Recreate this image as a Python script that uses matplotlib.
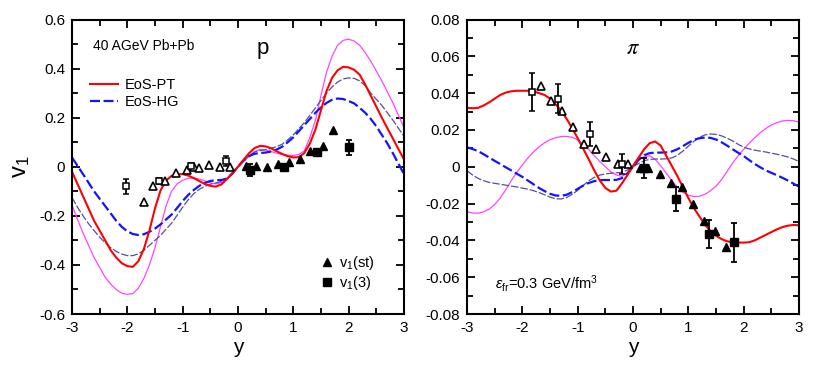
"""Directed flow v1(y) of protons and pions, 40 AGeV Pb+Pb."""

import matplotlib

matplotlib.use("Agg")
import matplotlib.pyplot as plt
import numpy as np
from matplotlib.lines import Line2D
from matplotlib.ticker import MultipleLocator

plt.rcParams["font.family"] = ["Liberation Sans", "DejaVu Sans"]
plt.rcParams["mathtext.fontset"] = "custom"
plt.rcParams["mathtext.rm"] = "Liberation Sans"
plt.rcParams["mathtext.it"] = "Liberation Sans:italic"
plt.rcParams["axes.unicode_minus"] = False

# ---- model curves, read every 0.1 in rapidity from -3 to 3 ----
y_grid = np.linspace(-3.0, 3.0, 61)

# protons
p_pt = [-0.02, -0.07, -0.12, -0.17, -0.22, -0.26, -0.30, -0.34, -0.37, -0.393,
        -0.405, -0.408, -0.385, -0.335, -0.26, -0.17, -0.097, -0.056, -0.037, -0.031,
        -0.030, -0.036, -0.046, -0.058, -0.07, -0.078, -0.081, -0.072, -0.05, -0.025,
        0.0,
        0.028, 0.055, 0.076, 0.085, 0.083, 0.075, 0.063, 0.052, 0.043, 0.038,
        0.039, 0.056, 0.095, 0.152, 0.23, 0.308, 0.362, 0.393, 0.407, 0.405,
        0.395, 0.375, 0.335, 0.29, 0.245, 0.20, 0.157, 0.115, 0.072, 0.03]
p_pt_thin = [-0.156, -0.215, -0.27, -0.32, -0.37, -0.41, -0.45, -0.478, -0.50, -0.515,
             -0.52, -0.517, -0.495, -0.455, -0.40, -0.33, -0.245, -0.16, -0.10, -0.07,
             -0.055, -0.047, -0.046, -0.05, -0.057, -0.066, -0.07, -0.065, -0.05, -0.027,
             0.0,
             0.022, 0.043, 0.062, 0.07, 0.068, 0.062, 0.055, 0.05, 0.047, 0.046,
             0.05, 0.065, 0.12, 0.19, 0.29, 0.385, 0.45, 0.495, 0.515, 0.52,
             0.512, 0.495, 0.465, 0.43, 0.39, 0.35, 0.305, 0.26, 0.21, 0.16]
p_hg = [0.038, 0.004, -0.03, -0.065, -0.10, -0.13, -0.16, -0.19, -0.22, -0.245,
        -0.263, -0.274, -0.278, -0.275, -0.265, -0.252, -0.235, -0.215, -0.195, -0.168,
        -0.14, -0.115, -0.095, -0.078, -0.066, -0.058, -0.055, -0.054, -0.048, -0.028,
        0.0,
        0.025, 0.043, 0.053, 0.056, 0.058, 0.062, 0.07, 0.082, 0.10, 0.12,
        0.145, 0.17, 0.195, 0.22, 0.242, 0.26, 0.273, 0.278, 0.276, 0.268,
        0.258, 0.24, 0.22, 0.195, 0.165, 0.13, 0.095, 0.055, 0.013, -0.03]
p_hg_thin = [-0.125, -0.165, -0.20, -0.232, -0.26, -0.287, -0.31, -0.33, -0.345, -0.356,
             -0.362, -0.362, -0.355, -0.34, -0.32, -0.30, -0.28, -0.255, -0.23, -0.198,
             -0.165, -0.135, -0.11, -0.092, -0.08, -0.071, -0.066, -0.06, -0.05, -0.03,
             0.0,
             0.025, 0.045, 0.06, 0.066, 0.07, 0.075, 0.082, 0.092, 0.11, 0.13,
             0.155, 0.18, 0.21, 0.24, 0.27, 0.30, 0.325, 0.345, 0.358, 0.362,
             0.36, 0.35, 0.33, 0.30, 0.275, 0.25, 0.22, 0.19, 0.157, 0.125]

# pions
pi_pt = [0.032, 0.0318, 0.032, 0.0333, 0.035, 0.037, 0.039, 0.0403, 0.041, 0.0413,
         0.0413, 0.0413, 0.041, 0.040, 0.039, 0.037, 0.034, 0.0305, 0.026, 0.021,
         0.0155, 0.0098, 0.004, -0.002, -0.0075, -0.0115, -0.0135, -0.013, -0.009, -0.0045,
         0.0005,
         0.005, 0.0095, 0.0128, 0.0137, 0.0115, 0.006, 0.0005, -0.005, -0.011, -0.017,
         -0.0225, -0.027, -0.0315, -0.035, -0.0375, -0.0393, -0.0405, -0.041, -0.0412, -0.0412,
         -0.041, -0.040, -0.0385, -0.037, -0.0355, -0.034, -0.0328, -0.032, -0.0316, -0.0318]
pi_pt_thin = [-0.0244, -0.0252, -0.0252, -0.0245, -0.023, -0.0205, -0.017, -0.0125, -0.0075, -0.003,
              0.001, 0.0048, 0.008, 0.0108, 0.013, 0.0147, 0.0158, 0.0164, 0.0165, 0.016,
              0.0145, 0.012, 0.0093, 0.006, 0.0028, 0.0, -0.0028, -0.0045, -0.0052, -0.0035,
              0.0,
              0.0035, 0.0055, 0.006, 0.004, 0.0005, -0.0035, -0.0075, -0.011, -0.0138, -0.0155,
              -0.0162, -0.016, -0.015, -0.013, -0.0105, -0.007, -0.0025, 0.002, 0.006, 0.0095,
              0.0128, 0.0158, 0.0185, 0.0208, 0.0227, 0.024, 0.0249, 0.0252, 0.025, 0.0243]
pi_hg = [0.0106, 0.0096, 0.0085, 0.0068, 0.005, 0.0032, 0.0015, -0.0003, -0.002, -0.0038,
         -0.0055, -0.0075, -0.0095, -0.0115, -0.0132, -0.0147, -0.0156, -0.0158, -0.0152, -0.0138,
         -0.012, -0.0102, -0.0088, -0.0078, -0.0073, -0.0072, -0.0072, -0.0071, -0.0062, -0.0035,
         0.0,
         0.0038, 0.0063, 0.0074, 0.0077, 0.0077, 0.0078, 0.0083, 0.0095, 0.0112, 0.013,
         0.0146, 0.0155, 0.0159, 0.0157, 0.0148, 0.0133, 0.0115, 0.0095, 0.0076, 0.0058,
         0.0036, 0.0015, -0.0003, -0.002, -0.0033, -0.0046, -0.006, -0.0075, -0.0092, -0.0108]
pi_hg_thin = [-0.0021, -0.0045, -0.0063, -0.0076, -0.0085, -0.009, -0.0095, -0.01, -0.0105, -0.011,
              -0.0116, -0.0122, -0.013, -0.014, -0.0152, -0.0165, -0.0174, -0.0175, -0.0167, -0.015,
              -0.0128, -0.0102, -0.0076, -0.0058, -0.0045, -0.0039, -0.0035, -0.0033, -0.003, -0.0018,
              0.0,
              0.0018, 0.0033, 0.004, 0.0042, 0.0042, 0.0043, 0.0048, 0.0062, 0.0085, 0.0112,
              0.0138, 0.016, 0.0173, 0.0178, 0.0176, 0.0168, 0.0155, 0.014, 0.0122, 0.0106,
              0.0097, 0.009, 0.0085, 0.008, 0.0074, 0.0068, 0.0061, 0.0053, 0.0042, 0.0028]

# ---- NA49 data ----
# protons: v1(st) filled, reflected open
p_st_y = [0.15, 0.33, 0.52, 0.73, 0.93, 1.12, 1.31, 1.53, 1.71]
p_st_v = [0.002, 0.004, 0.0, 0.01, 0.02, 0.03, 0.065, 0.086, 0.151]
p_st_refl_y = [-1.70, -1.53, -1.31, -1.12, -0.92, -0.80, -0.71, -0.52, -0.32, -0.15]
p_st_refl_v = [-0.144, -0.077, -0.058, -0.024, -0.013, -0.002, -0.004, 0.007, 0.0, 0.0]
p_3_y = [0.21, 0.83, 1.43, 2.01]
p_3_v = [-0.013, -0.002, 0.059, 0.079]
p_3_err = [0.025, 0.01, 0.012, 0.032]
p_3_refl_y = [-2.02, -1.42, -0.84, -0.21]
p_3_refl_v = [-0.08, -0.058, 0.004, 0.022]
p_3_refl_err = [0.032, 0.012, 0.01, 0.02]

# pions
pi_st_y = [0.13, 0.27, 0.49, 0.68, 0.89, 1.09, 1.28, 1.48, 1.68]
pi_st_v = [-0.0005, -0.0005, -0.004, -0.0086, -0.0111, -0.0202, -0.0294, -0.0347, -0.0434]
pi_st_refl_y = [-1.67, -1.48, -1.28, -1.08, -0.89, -0.67, -0.49, -0.27, -0.10]
pi_st_refl_v = [0.044, 0.0359, 0.0305, 0.0215, 0.0122, 0.0099, 0.0052, 0.0015, 0.0016]
pi_3_y = [0.19, 0.78, 1.38, 1.83]
pi_3_v = [-0.0008, -0.0176, -0.0366, -0.041]
pi_3_err = [0.0054, 0.0065, 0.0075, 0.0105]
pi_3_refl_y = [-1.82, -1.36, -0.78, -0.20]
pi_3_refl_v = [0.0408, 0.037, 0.0178, 0.0014]
pi_3_refl_err = [0.0104, 0.0077, 0.0066, 0.0054]

x_ticks = [-3, -2, -1, 0, 1, 2, 3]
x_labels = ["-3", "-2", "-1", "0", "1", "2", "3"]
p_ticks = [-0.6, -0.4, -0.2, 0.0, 0.2, 0.4, 0.6]
p_labels = ["-0.6", "-0.4", "-0.2", "0", "0.2", "0.4", "0.6"]
pi_ticks = [-0.08, -0.06, -0.04, -0.02, 0.0, 0.02, 0.04, 0.06, 0.08]
pi_labels = ["-0.08", "-0.06", "-0.04", "-0.02", "0", "0.02", "0.04", "0.06", "0.08"]

RED = "#ff0000"
BLUE = "#1414ff"
PINK = "#ff44ff"
NAVY = "#5050a0"


def draw_panel(ax, pt, pt_thin, hg, hg_thin, st_y, st_v, st_ry, st_rv,
               s3_y, s3_v, s3_e, s3_ry, s3_rv, s3_re):
    ax.plot(y_grid, pt_thin, color=PINK, lw=0.9, zorder=2)
    ax.plot(y_grid, hg_thin, color=NAVY, lw=0.9, dashes=(6, 1.6), zorder=2)
    ax.plot(y_grid, hg, color=BLUE, lw=1.6, dashes=(4.5, 1.6), zorder=2)
    ax.plot(y_grid, pt, color=RED, lw=1.5, zorder=2)
    ax.plot(st_y, st_v, ls="none", marker="^", ms=6, color="black", zorder=4)
    ax.plot(st_ry, st_rv, ls="none", marker="^", ms=5.5, mfc="white",
            mec="black", mew=1.2, zorder=4)
    ax.errorbar(s3_y, s3_v, yerr=s3_e, fmt="s", ms=5.5, color="black",
                elinewidth=1.3, capsize=2.5, capthick=1.3, zorder=5)
    ax.errorbar(s3_ry, s3_rv, yerr=s3_re, fmt="s", ms=5, mfc="white",
                mec="black", mew=1.1, ecolor="black", elinewidth=1.3,
                capsize=2.5, capthick=1.3, zorder=5)
    ax.set_xlim(-3, 3)
    ax.set_xticks(x_ticks)
    ax.set_xticklabels(x_labels)
    ax.xaxis.set_minor_locator(MultipleLocator(0.5))
    ax.tick_params(which="both", direction="in", top=True, right=True,
                   width=1.3, labelsize=11, pad=5)
    ax.tick_params(which="major", length=6)
    ax.tick_params(which="minor", length=4.5)
    for sp in ax.spines.values():
        sp.set_linewidth(1.5)
    ax.set_xlabel("y", fontsize=15, labelpad=2)


fig = plt.figure(figsize=(8.3, 3.79), dpi=100)
ax1 = fig.add_axes([0.0867, 0.1715, 0.4, 0.777])
ax2 = fig.add_axes([0.5627, 0.1715, 0.4, 0.777])

draw_panel(ax1, p_pt, p_pt_thin, p_hg, p_hg_thin, p_st_y, p_st_v, p_st_refl_y,
           p_st_refl_v, p_3_y, p_3_v, p_3_err, p_3_refl_y, p_3_refl_v, p_3_refl_err)
ax1.set_ylim(-0.6, 0.6)
ax1.set_yticks(p_ticks)
ax1.set_yticklabels(p_labels)
ax1.yaxis.set_minor_locator(MultipleLocator(0.1))
ax1.set_ylabel("v$_1$", fontsize=17, labelpad=5)
ax1.text(0.063, 0.91, "40 AGeV Pb+Pb", transform=ax1.transAxes, fontsize=10,
         va="center", ha="left")
ax1.text(0.575, 0.9, "p", transform=ax1.transAxes, fontsize=16,
         va="center", ha="center")

leg1 = ax1.legend(
    handles=[Line2D([], [], color=RED, lw=1.5),
             Line2D([], [], color=BLUE, lw=1.6, dashes=(4.5, 1.6))],
    labels=["EoS-PT", "EoS-HG"], loc="upper left", bbox_to_anchor=(0.055, 0.80),
    frameon=False, fontsize=10.5, handlelength=1.9, handletextpad=0.45,
    labelspacing=0.2, borderpad=0, borderaxespad=0)
ax1.add_artist(leg1)
ax1.legend(
    handles=[Line2D([], [], ls="none", marker="^", ms=6, color="black"),
             Line2D([], [], ls="none", marker="s", ms=5.5, color="black")],
    labels=["v$_1$(st)", "v$_1$(3)"], loc="upper left", bbox_to_anchor=(0.752, 0.205),
    frameon=False, fontsize=10.5, handlelength=0.8, handletextpad=0.4,
    labelspacing=0.15, borderpad=0, borderaxespad=0)

draw_panel(ax2, pi_pt, pi_pt_thin, pi_hg, pi_hg_thin, pi_st_y, pi_st_v, pi_st_refl_y,
           pi_st_refl_v, pi_3_y, pi_3_v, pi_3_err, pi_3_refl_y, pi_3_refl_v, pi_3_refl_err)
ax2.set_ylim(-0.08, 0.08)
ax2.set_yticks(pi_ticks)
ax2.set_yticklabels(pi_labels)
ax2.yaxis.set_minor_locator(MultipleLocator(0.01))
ax2.text(0.5, 0.9, r"$\pi$", transform=ax2.transAxes, fontsize=16,
         va="center", ha="center", math_fontfamily="stix")
ax2.text(0.085, 0.105, r"$\varepsilon_{\rm fr}$=0.3 GeV/fm$^3$", transform=ax2.transAxes,
         fontsize=10.5, va="center", ha="left")

fig.savefig("out.png", dpi=100)
